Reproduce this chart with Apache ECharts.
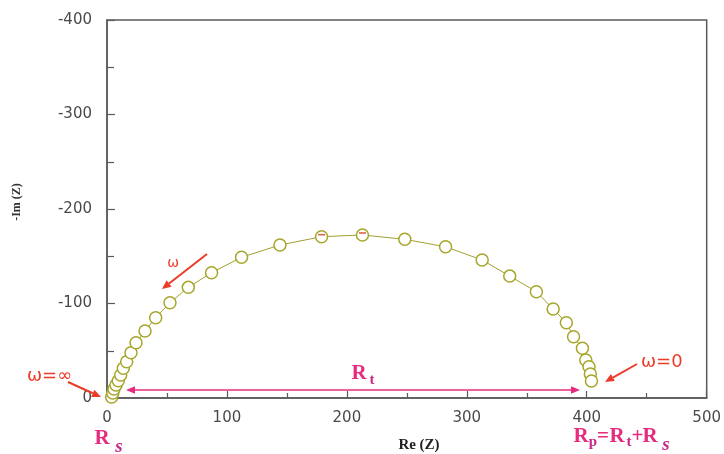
<!DOCTYPE html>
<html lang="en">
<head>
    <meta charset="utf-8">
    <script src="https://cdn.jsdelivr.net/npm/echarts@6/dist/echarts.min.js"></script>
    <style>
        html,
        body {
            margin: 0;
            padding: 0;
            width: 100%;
            height: 100%;
            background: #fff;
            overflow: hidden;
        }

        #nyquist {
            width: 724px;
            height: 454px;
        }
    </style>
</head>
<body>
<div id="nyquist"></div>
<script>
    // Nyquist points: Re(Z) and Im(Z) (Im is negative, axis shows -400 on top)
    var reZ = [3.9, 4.8, 5.8, 7.5, 9.4, 11.4, 13.6, 16.4, 20, 24.2, 31.7, 40.6, 52.5, 67.8, 87.2,
        112.2, 144.2, 178.9, 213, 248.3, 282.3, 312.8, 335.8, 358, 372, 383, 389, 396.4, 399.2,
        401.9, 403, 403.9];
    var imZ = [-1, -5.3, -9.5, -13.8, -18.3, -24.3, -31.4, -38.4, -47.9, -58.5, -70.9, -85, -100.8,
        -117.1, -132.6, -148.9, -161.9, -170.7, -172.5, -167.9, -160, -146, -129, -112.5, -94.2,
        -79.7, -64.9, -52.6, -40.2, -33.1, -25.4, -18];
    // two points near the top carry a small red mark
    var markedIdx = [17, 18];

    var xMin = 0, xMax = 500, xStep = 100;
    var yMin = -400, yMax = 0, yStep = 100;

    var points = reZ.map(function (x, i) {
        return [x, imZ[i]];
    });
    var marked = markedIdx.map(function (i) {
        return [reZ[i], imZ[i]];
    });

    var red = '#ec3b28';
    var pink = '#e62c7e';
    var pinkSub = '#c82a86';
    var axisColor = '#5a5a5a';

    function arrow(x1, y1, x2, y2, color, w, hl, hw) {
        var a = Math.atan2(y2 - y1, x2 - x1);
        var bx = x2 - hl * Math.cos(a), by = y2 - hl * Math.sin(a);
        return [
            {type: 'line', z: 50, shape: {x1: x1, y1: y1, x2: bx, y2: by}, style: {stroke: color, lineWidth: w}},
            {
                type: 'polygon', z: 50,
                shape: {points: [[x2, y2], [bx - hw * Math.sin(a), by + hw * Math.cos(a)], [bx + hw * Math.sin(a), by - hw * Math.cos(a)]]},
                style: {fill: color}
            }
        ];
    }

    function txt(s, x, y, font, color, align, rot) {
        return {
            type: 'text', z: 50, x: x, y: y, rotation: rot || 0,
            style: {text: s, font: font, fill: color, textAlign: align || 'center', textVerticalAlign: 'middle'}
        };
    }

    var big = 'bold 21px "Liberation Serif"';
    var sub = 'bold 15px "Liberation Serif"';
    var subS = 'italic bold 19px "Liberation Serif"';

    var graphics = []
        // R_t double arrow
        .concat(arrow(300, 390, 126, 390, pink, 1.5, 9, 3.8))
        .concat(arrow(300, 390, 580, 390, pink, 1.5, 9, 3.8))
        // omega arrows
        .concat(arrow(68, 382, 101, 397, red, 2, 9, 4))
        .concat(arrow(207, 254, 162, 289, red, 2, 9, 4))
        .concat(arrow(637, 364, 605, 382, red, 2, 9, 4))
        .concat([
            txt('ω=∞', 27, 376, '18px "DejaVu Sans"', red, 'left'),
            txt('ω', 173, 263, '14px "DejaVu Sans"', red),
            txt('ω=0', 641, 362, '18px "DejaVu Sans"', red, 'left'),
            txt('-Im (Z)', 17, 202, 'bold 12px "Liberation Serif"', '#333', 'center', Math.PI / 2),
            txt('Re (Z)', 419, 445, 'bold 15px "Liberation Serif"', '#222'),
            // R_s
            txt('R', 102, 438.3, big, pink),
            txt('s', 119, 447.5, subS, pinkSub),
            // R_t
            txt('R', 359, 373.5, big, pink),
            txt('t', 372, 380, sub, pinkSub),
            // R_p = R_t + R_s
            txt('R', 581, 436.5, big, pink),
            txt('p', 593, 442, sub, pinkSub),
            txt('=', 603, 436.5, big, pink),
            txt('R', 617, 436.5, big, pink),
            txt('t', 629, 442, sub, pinkSub),
            txt('+', 637.5, 436.5, big, pink),
            txt('R', 650, 436.5, big, pink),
            txt('s', 666, 445.5, subS, pinkSub)
        ]);

    var chart = echarts.init(document.getElementById('nyquist'));
    chart.setOption({
        animation: false,
        grid: {
            left: 107,
            right: 16,
            top: 20,
            bottom: 56,
            show: true,
            borderColor: axisColor,
            borderWidth: 1.5
        },
        xAxis: {
            type: 'value',
            min: xMin,
            max: xMax,
            interval: xStep,
            axisLine: {lineStyle: {color: axisColor, width: 1.5}},
            axisTick: {inside: true, length: 7, lineStyle: {color: axisColor, width: 1.2}},
            minorTick: {show: true, splitNumber: 2, length: 5, lineStyle: {color: axisColor, width: 1.2}},
            splitLine: {show: false},
            axisLabel: {margin: 13, fontFamily: 'DejaVu Sans', fontSize: 15, color: '#4a4a4a'}
        },
        yAxis: {
            type: 'value',
            min: yMin,
            max: yMax,
            interval: yStep,
            inverse: true,
            axisLine: {lineStyle: {color: axisColor, width: 1.5}},
            axisTick: {inside: true, length: 8, lineStyle: {color: axisColor, width: 1.2}},
            minorTick: {show: true, splitNumber: 2, length: 7, lineStyle: {color: axisColor, width: 1.2}},
            splitLine: {show: false},
            axisLabel: {margin: 15, fontFamily: 'DejaVu Sans', fontSize: 15, color: '#4a4a4a'}
        },
        series: [
            {
                type: 'line',
                data: points,
                symbol: 'circle',
                symbolSize: 12,
                showAllSymbol: true,
                clip: false,
                lineStyle: {color: '#a0a032', width: 1},
                itemStyle: {color: '#fff', borderColor: '#a6a62a', borderWidth: 1.5},
                z: 3
            },
            {
                type: 'scatter',
                data: marked,
                symbol: 'rect',
                symbolSize: [7, 1.6],
                symbolOffset: [0, -2],
                itemStyle: {color: '#e03a20'},
                z: 4
            }
        ],
        graphic: graphics
    });
</script>
</body>
</html>
